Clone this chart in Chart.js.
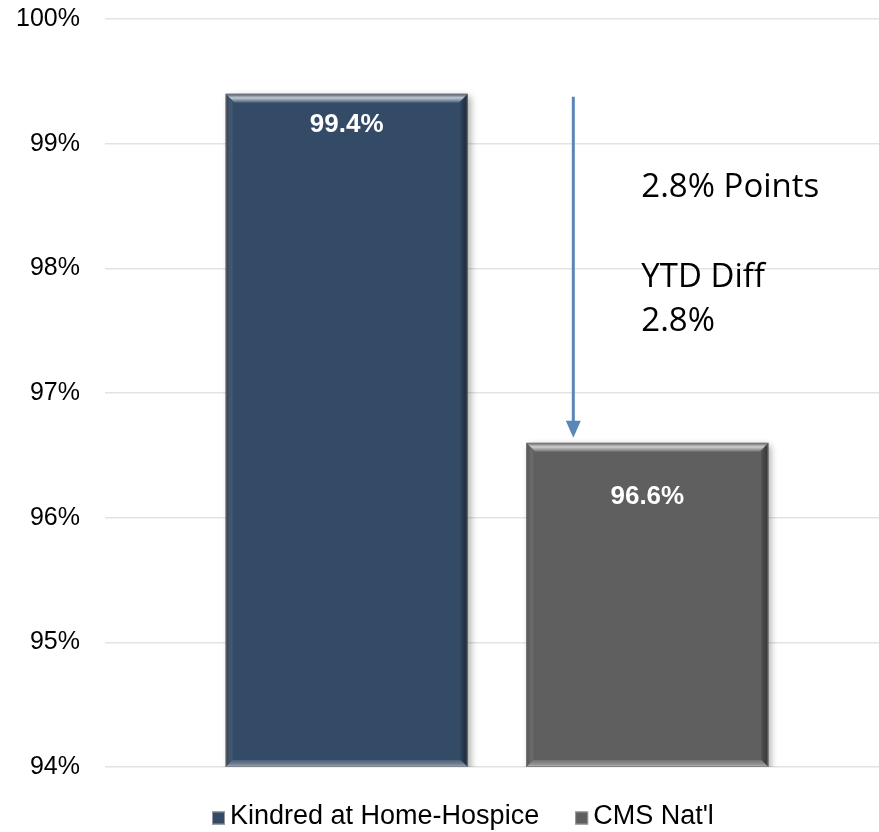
<!DOCTYPE html>
<html>
<head>
<meta charset="utf-8">
<script src="https://cdn.jsdelivr.net/npm/chart.js@4.4.0/dist/chart.umd.min.js"></script>
<style>
  html, body { margin: 0; padding: 0; background: #fff; overflow: hidden; }
  #wrap { width: 879px; height: 832px; }
</style>
</head>
<body>
<div id="wrap"><canvas id="chart"></canvas></div>
<script>
// values
var categories = [''];
var seriesNames = ['Kindred at Home-Hospice', "CMS Nat'l"];
var seriesValues = [99.4, 96.6];
var seriesColors = ['#334b66', '#5f5f60'];
var yTicks = [94, 95, 96, 97, 98, 99, 100];
var noteLines = ['2.8% Points', '', 'YTD Diff', '2.8%'];

// label offsets below bar top (px)
var labelDrop = [31, 54];
var FONT = '"Liberation Sans", Arial, sans-serif';

function bevel(ctx, el, bottom) {
  var l = el.x - el.width / 2, r = el.x + el.width / 2;
  var t = el.y, btm = Math.min(el.base, bottom), b = 9, s = 7;
  ctx.save();
  // top highlight
  var g = ctx.createLinearGradient(0, t, 0, t + b);
  g.addColorStop(0, 'rgba(255,255,255,0.05)');
  g.addColorStop(0.45, 'rgba(255,255,255,0.7)');
  g.addColorStop(1, 'rgba(255,255,255,0.1)');
  ctx.fillStyle = g;
  ctx.beginPath();
  ctx.moveTo(l, t); ctx.lineTo(r, t); ctx.lineTo(r - b, t + b); ctx.lineTo(l + b, t + b);
  ctx.closePath(); ctx.fill();
  // left side
  var gl = ctx.createLinearGradient(l, 0, l + s, 0);
  gl.addColorStop(0, 'rgba(0,0,0,0.25)');
  gl.addColorStop(1, 'rgba(255,255,255,0.06)');
  ctx.fillStyle = gl;
  ctx.beginPath();
  ctx.moveTo(l, t); ctx.lineTo(l + s, t + b); ctx.lineTo(l + s, btm - s); ctx.lineTo(l, btm);
  ctx.closePath(); ctx.fill();
  // right side
  var gr = ctx.createLinearGradient(r - s, 0, r, 0);
  gr.addColorStop(0, 'rgba(0,0,0,0.15)');
  gr.addColorStop(1, 'rgba(0,0,0,0.45)');
  ctx.fillStyle = gr;
  ctx.beginPath();
  ctx.moveTo(r, t); ctx.lineTo(r, btm); ctx.lineTo(r - s, btm - s); ctx.lineTo(r - s, t + b);
  ctx.closePath(); ctx.fill();
  // bottom
  var gb = ctx.createLinearGradient(0, btm - s, 0, btm);
  gb.addColorStop(0, 'rgba(255,255,255,0.12)');
  gb.addColorStop(0.6, 'rgba(255,255,255,0.3)');
  gb.addColorStop(1, 'rgba(255,255,255,0.6)');
  ctx.fillStyle = gb;
  ctx.beginPath();
  ctx.moveTo(l, btm); ctx.lineTo(l + s, btm - s); ctx.lineTo(r - s, btm - s); ctx.lineTo(r, btm);
  ctx.closePath(); ctx.fill();
  // outline
  ctx.strokeStyle = 'rgba(120,120,120,0.8)';
  ctx.lineWidth = 1;
  ctx.strokeRect(l + 0.5, t + 0.5, el.width - 1, btm - t - 1);
  ctx.restore();
}

var decor = {
  id: 'decor',
  afterLayout: function (chart) {
    // the original plot runs a little past the right edge of the picture
    var x = chart.scales.x;
    x.right = x.left + 784;
    x.width = 784;
    x.configure();
  },
  beforeDatasetDraw: function (chart) {
    var ctx = chart.ctx;
    ctx.save();
    ctx.shadowColor = 'rgba(0,0,0,0.35)';
    ctx.shadowBlur = 7;
    ctx.shadowOffsetX = 3;
    ctx.shadowOffsetY = 2;
  },
  afterDatasetDraw: function (chart) {
    chart.ctx.restore();
  },
  afterDatasetsDraw: function (chart) {
    var ctx = chart.ctx;
    var y = chart.scales.y;
    var area = chart.chartArea;
    var bars = [];
    chart.data.datasets.forEach(function (ds, i) {
      var el = chart.getDatasetMeta(i).data[0];
      bars.push(el);
      bevel(ctx, el, area.bottom);
      ctx.save();
      ctx.fillStyle = '#fff';
      ctx.font = 'bold 26px ' + FONT;
      ctx.textAlign = 'center';
      ctx.textBaseline = 'middle';
      ctx.fillText(seriesValues[i].toFixed(1) + '%', el.x, el.y + labelDrop[i]);
      ctx.restore();
    });
    // difference arrow
    var b2 = bars[1];
    var ax = b2.x - b2.width / 2 + 47;
    var y1 = y.getPixelForValue(seriesValues[0]) + 3;
    var y2 = y.getPixelForValue(seriesValues[1]) - 5;
    ctx.save();
    ctx.strokeStyle = '#5b86b8';
    ctx.fillStyle = '#5b86b8';
    ctx.lineWidth = 3;
    ctx.beginPath();
    ctx.moveTo(ax, y1); ctx.lineTo(ax, y2 - 14);
    ctx.stroke();
    ctx.beginPath();
    ctx.moveTo(ax - 7.5, y2 - 17); ctx.lineTo(ax + 7.5, y2 - 17); ctx.lineTo(ax, y2);
    ctx.closePath(); ctx.fill();
    // note text
    ctx.fillStyle = '#000';
    ctx.font = '33px "Open Sans", sans-serif';
    ctx.textAlign = 'left';
    ctx.textBaseline = 'middle';
    var tx = ax + 68, ty = 188;
    var gaps = [0, 45, 90, 134];
    noteLines.forEach(function (s, k) {
      if (s) ctx.fillText(s, tx, ty + gaps[k]);
    });
    ctx.restore();

    // legend
    ctx.save();
    ctx.font = '27px ' + FONT;
    ctx.textBaseline = 'middle';
    var ly = 818, gapItem = 36, box = 13;
    var lx = 212;
    seriesNames.forEach(function (n, i) {
      ctx.fillStyle = seriesColors[i];
      ctx.fillRect(lx, ly - 6.5, box, box);
      ctx.strokeStyle = 'rgba(160,160,160,0.9)';
      ctx.lineWidth = 1;
      ctx.strokeRect(lx + 0.5, ly - 6, box - 1, box - 1);
      ctx.fillStyle = '#000';
      ctx.fillText(n, lx + box + 5, ly - 1);
      lx += box + 5 + ctx.measureText(n).width + gapItem;
    });
    ctx.restore();
  }
};

var datasets = seriesNames.map(function (name, i) {
  return {
    label: name,
    data: [seriesValues[i]],
    backgroundColor: seriesColors[i],
    borderWidth: 0,
    categoryPercentage: 0.767,
    barPercentage: 0.805
  };
});

new Chart(document.getElementById('chart'), {
  type: 'bar',
  data: { labels: categories, datasets: datasets },
  plugins: [decor],
  options: {
    responsive: true,
    maintainAspectRatio: false,
    animation: false,
    layout: { padding: { left: 13, right: 0, top: 19, bottom: 65 } },
    plugins: {
      tooltip: { enabled: false },
      legend: { display: false }
    },
    scales: {
      x: {
        ticks: { display: false },
        grid: { display: false },
        border: { display: false },
        afterFit: function (axis) { axis.height = 0; }
      },
      y: {
        min: 94,
        max: 100,
        afterBuildTicks: function (axis) {
          axis.ticks = yTicks.map(function (v) { return { value: v }; });
        },
        afterFit: function (axis) {
          axis.width = 92;
          axis.paddingTop = 0;
          axis.paddingBottom = 0;
        },
        ticks: {
          color: '#000',
          padding: 25,
          font: { family: FONT, size: 25 },
          callback: function (v) { return v + '%'; }
        },
        grid: { color: '#e3e3e3', lineWidth: 1.5, drawTicks: false },
        border: { display: false }
      }
    }
  }
});
</script>
</body>
</html>
